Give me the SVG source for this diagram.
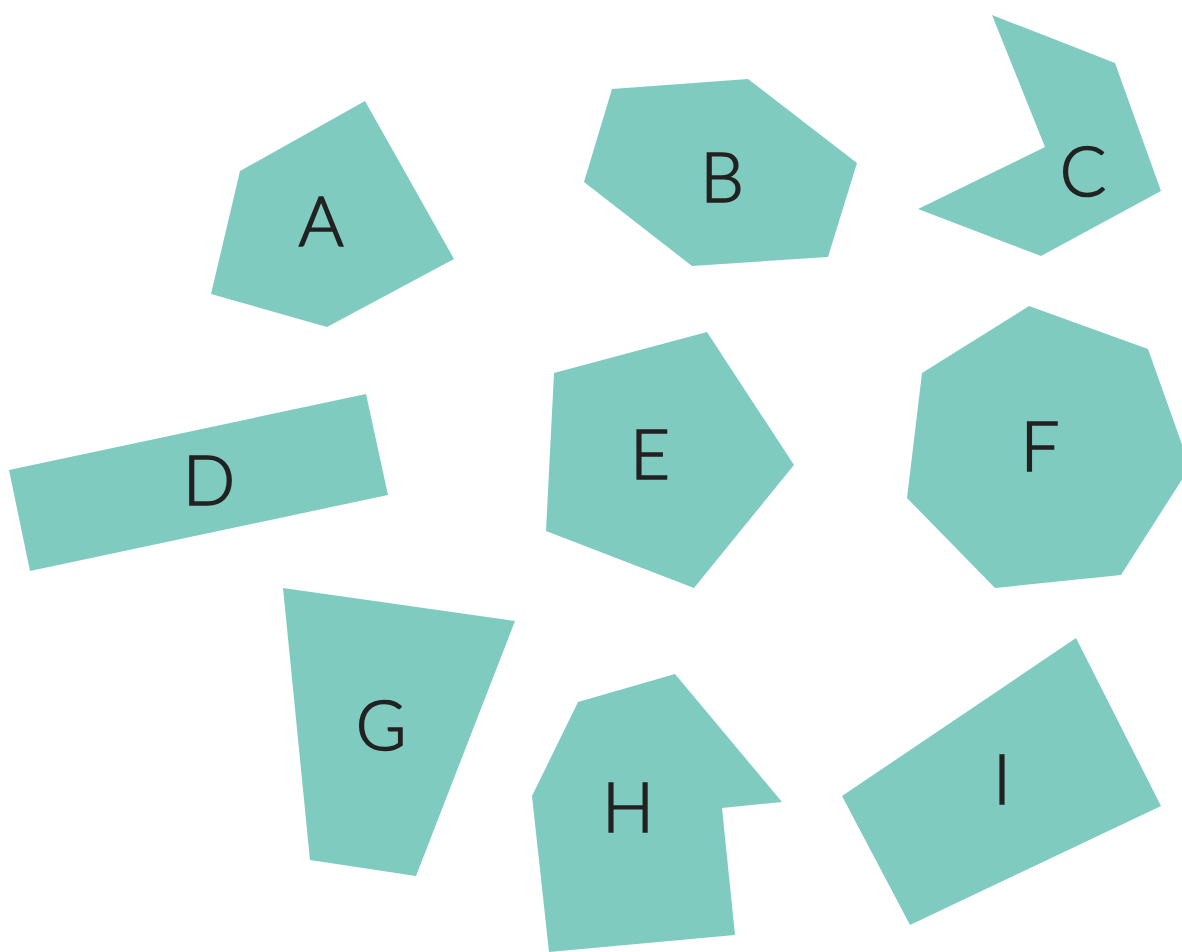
<svg xmlns="http://www.w3.org/2000/svg" width="1182" height="952" viewBox="0 0 1182 952">
<style>
.s{fill:#80cbc0}
.t{font-family:Lato,"Noto Sans",sans-serif;font-weight:300;font-size:69px;fill:#222;stroke:#222;stroke-width:1.6px;text-anchor:middle}
</style>
<rect width="1182" height="952" fill="#fff"/>
<g id="A"><polygon class="s" points="365,101 454,259 327,327 211,294 240,171"/><text class="t" x="321" y="246">A</text></g>
<g id="B"><polygon class="s" points="612,89 748,79 857,163 828,257 692,266 584,182"/><text class="t" x="722" y="202">B</text></g>
<g id="C"><polygon class="s" points="992,15 1115,63 1161,191 1041,256 918,209 1045,147"/><text class="t" x="1083" y="196">C</text></g>
<g id="D"><polygon class="s" points="9,470 366,394 388,495 30,571"/><text class="t" x="209" y="505">D</text></g>
<g id="E"><polygon class="s" points="554,373 707,332 794,465 694,588 546,531"/><text class="t" x="650" y="479">E</text></g>
<g id="F"><polygon class="s" points="1029,306 1148,349 1190,467 1121,575 995,588 907,498 922,373"/><text class="t" x="1040" y="471">F</text></g>
<g id="G"><polygon class="s" points="283,588 515,621 416,876 310,860"/><text class="t" x="381" y="750">G</text></g>
<g id="H"><polygon class="s" points="578,702 675,674 782,802 722,808 735,935 549,952 532,796"/><text class="t" x="628" y="832">H</text></g>
<g id="I"><polygon class="s" points="1076,638 1161,806 910,925 842,796"/><text class="t" x="1002" y="804">I</text></g>
<g id="connectors"></g>
</svg>
